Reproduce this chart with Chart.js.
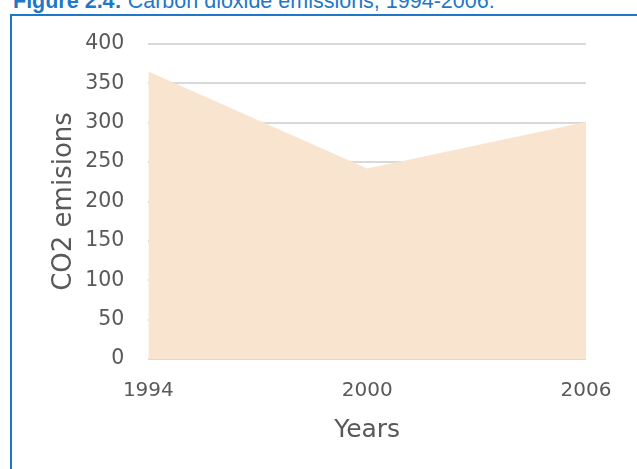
<!DOCTYPE html>
<html>
<head>
<meta charset="utf-8">
<script src="https://cdn.jsdelivr.net/npm/chart.js@4/dist/chart.umd.min.js"></script>
<style>
  html, body { margin: 0; padding: 0; background: #fff; overflow: hidden; }
  body { width: 637px; height: 469px; position: relative; }
  #title {
    position: absolute; left: 13px; top: -9px; white-space: nowrap;
    font-family: "Liberation Sans", Arial, sans-serif; font-size: 21.5px; line-height: 21.5px;
    color: #1f77c8;
  }
  #title b { font-weight: bold; }
  #frame {
    position: absolute; left: 10px; top: 14px; width: 700px; height: 500px;
    border-left: 2px solid #1f77c8; border-top: 2px solid #1f77c8;
  }
  #wrap { position: absolute; left: 0; top: 0; width: 637px; height: 469px; }
</style>
</head>
<body>
<div id="title"><b>Figure 2.4:</b> Carbon dioxide emissions, 1994-2006.</div>
<div id="frame"></div>
<div id="wrap"><canvas id="myChart"></canvas></div>
<script>
(function () {
  "use strict";

  // data
  const years = ["1994", "2000", "2006"];
  const emissions = [365, 242, 301];
  const yTicks = [0, 50, 100, 150, 200, 250, 300, 350, 400];

  const textColor = "#595959";
  const font = "'DejaVu Sans', sans-serif";

  const ctx = document.getElementById("myChart").getContext("2d");
  new Chart(ctx, {
    type: "line",
    data: {
      labels: years,
      datasets: [
        {
          label: "CO2 emisions",
          data: emissions,
          fill: "origin",
          backgroundColor: "#f9e5cf",
          borderWidth: 0,
          pointRadius: 0,
          tension: 0,
        },
      ],
    },
    options: {
      responsive: true,
      maintainAspectRatio: false,
      animation: false,
      layout: {
        padding: { left: 49, right: 51, top: 44, bottom: 24 },
      },
      plugins: {
        legend: { display: false },
        tooltip: { enabled: false },
      },
      scales: {
        x: {
          offset: false,
          grid: { display: false },
          border: { display: false },
          ticks: {
            color: textColor,
            font: { family: font, size: 20 },
            padding: 12,
            maxRotation: 0,
          },
          title: {
            display: true,
            text: "Years",
            color: textColor,
            font: { family: font, size: 25 },
            padding: { top: 0, bottom: 0 },
          },
        },
        y: {
          min: 0,
          max: 400,
          afterBuildTicks: (scale) => {
            scale.ticks = yTicks.map((v) => ({ value: v }));
          },
          grid: { color: "#d9d9d9", lineWidth: 2, drawTicks: false },
          border: { display: false },
          ticks: {
            color: textColor,
            font: { family: font, size: 20.5 },
            padding: 24,
          },
          title: {
            display: true,
            text: "CO2 emisions",
            color: textColor,
            font: { family: font, size: 26 },
            padding: { top: 0, bottom: -19 },
          },
        },
      },
    },
  });
})();
</script>
</body>
</html>
